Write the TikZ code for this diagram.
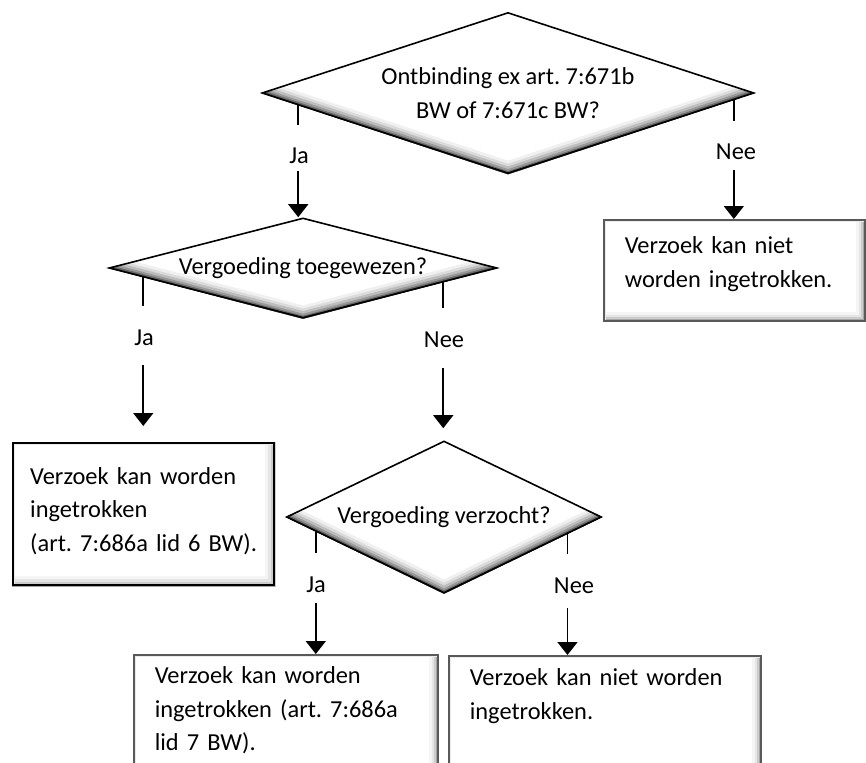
\documentclass[tikz,border=0pt]{standalone}
\usepackage{fontspec}
\setmainfont{Carlito}
\frenchspacing
\usetikzlibrary{shapes.geometric,arrows.meta,calc,backgrounds}

\tikzset{
    keuze/.style={shape=diamond, draw, line width=1.6pt, inner sep=0pt, align=center},
    uitkomst/.style={draw=black!65, line width=1.6pt, align=left, anchor=north west, inner xsep=21pt, inner ysep=0pt},
    antwoord/.style={inner sep=0pt, text height=16pt, text depth=0pt},
    streep/.style={line width=1.6pt, shorten >=23pt},
    pijl/.style={-{Triangle[width=20pt,length=13pt]}, line width=1.6pt}
}

% schaduwrand binnen een ruit
\newcommand{\ruitrand}[1]{%
    \begin{scope}
        \clip (#1.west) -- (#1.north) -- (#1.east) -- (#1.south) -- cycle;
        \foreach \w/\g in {26/6,20/14,15/26,10/40,6/58,3/75}
            \draw[line width=\w pt, black!\g, line join=miter, miter limit=25] (#1.west) -- (#1.south) -- (#1.east);
    \end{scope}}

% schaduwrand binnen een kader
\newcommand{\kaderrand}[1]{%
    \begin{scope}
        \clip (#1.south west) rectangle (#1.north east);
        \foreach \w/\g in {20/4,14/10,9/20,5/35}
            \draw[line width=\w pt, black!\g] (#1.north east) -- (#1.south east) -- (#1.south west);
        \draw[line width=6pt, black!8] (#1.south west) -- (#1.north west) -- (#1.north east);
    \end{scope}}

\begin{document}
\begin{tikzpicture}[x=1pt, y=-1pt, font=\fontsize{24.4pt}{33.5pt}\selectfont]
    \useasboundingbox (0,0) rectangle (866,762);
    \clip (0,0) rectangle (866,762);

    % Beslissingen
    \node[keuze, minimum width=492pt, minimum height=161pt, aspect=3.06] (ontbinding) at (508,93) {Ontbinding ex art. 7:671b\\BW of 7:671c BW?};
    \node[keuze, minimum width=388pt, minimum height=100pt, aspect=3.88] (toegewezen) at (303,268) {Vergoeding toegewezen?};
    \node[keuze, minimum width=315pt, minimum height=152pt, aspect=2.07] (verzocht) at (444,517) {Vergoeding verzocht?};

    % Uitkomsten
    \node[uitkomst, text width=219pt, text height=34pt, text depth=67pt] (nietIn) at (603,219) {Verzoek kan niet\\worden ingetrokken.};
    \node[uitkomst, draw=black, line width=2.4pt, inner xsep=17pt, text width=227pt, text height=41pt, text depth=101pt] (lid6) at (12,442) {Verzoek kan worden\\ingetrokken\\(art. 7:686a lid 6 BW).};
    \node[uitkomst, text width=262pt, text height=29pt, text depth=120pt] (lid7) at (133,654) {Verzoek kan worden\\ingetrokken (art. 7:686a\\lid 7 BW).};
    \node[uitkomst, text width=270pt, text height=30pt, text depth=118pt] (nietOk) at (448,655) {Verzoek kan niet worden\\ingetrokken.};

    % Antwoorden
    \node[antwoord] (ja1) at (299,156) {Ja};
    \node[antwoord] (nee1) at (736,152) {Nee};
    \node[antwoord] (ja2) at (144,337) {Ja};
    \node[antwoord] (nee2) at (444,339) {Nee};
    \node[antwoord] (ja3) at (316,584) {Ja};
    \node[antwoord] (nee3) at (574,585) {Nee};

    % Vertrekpunten op de ruiten
    \coordinate (o-ja) at ($(ontbinding.west)!0.15!(ontbinding.south)$);
    \coordinate (o-nee) at ($(ontbinding.east)!0.085!(ontbinding.south)$);
    \coordinate (t-ja) at ($(toegewezen.west)!0.18!(toegewezen.south)$);
    \coordinate (t-nee) at ($(toegewezen.east)!0.28!(toegewezen.south)$);
    \coordinate (v-ja) at ($(verzocht.west)!0.19!(verzocht.south)$);
    \coordinate (v-nee) at ($(verzocht.east)!0.22!(verzocht.south)$);

    % Verbindingen
    \draw[streep] (o-ja) -- (o-ja |- ja1.north);
    \draw[pijl, shorten <=7pt] (o-ja |- ja1.south) -- (o-ja |- toegewezen.north);
    \draw[streep] (o-nee) -- (o-nee |- nee1.north);
    \draw[pijl, shorten <=10pt] (o-nee |- nee1.south) -- (o-nee |- nietIn.north);

    \draw[streep] (t-ja) -- (t-ja |- ja2.north);
    \draw[pijl, shorten <=20pt, shorten >=16pt] (t-ja |- ja2.south) -- (t-ja |- lid6.north);
    \draw[streep] (t-nee) -- (t-nee |- nee2.north);
    \draw[pijl, shorten <=21pt, shorten >=12pt] (t-nee |- nee2.south) -- (t-nee |- verzocht.north);

    \draw[streep] (v-ja) -- (v-ja |- ja3.north);
    \draw[pijl, shorten <=11pt] (v-ja |- ja3.south) -- (v-ja |- lid7.north);
    \draw[streep] (v-nee) -- (v-nee |- nee3.north);
    \draw[pijl, shorten <=15pt] (v-nee |- nee3.south) -- (v-nee |- nietOk.north);

    % Schaduwranden
    \begin{scope}[on background layer]
        \ruitrand{ontbinding}
        \ruitrand{toegewezen}
        \ruitrand{verzocht}
        \kaderrand{nietIn}
        \kaderrand{lid6}
        \kaderrand{lid7}
        \kaderrand{nietOk}
    \end{scope}
\end{tikzpicture}
\end{document}
